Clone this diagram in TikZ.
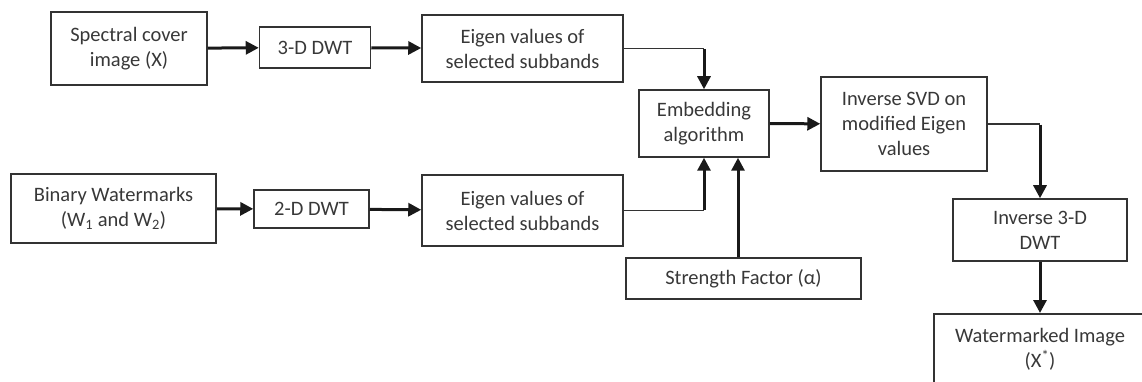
\documentclass[tikz,border=0pt]{standalone}
\usepackage{fontspec}
\setmainfont{Carlito}
\usetikzlibrary{arrows.meta}

\tikzset{
  blk/.style={draw=black!80, line width=1.5pt, align=center, inner sep=0pt, text=black!78},
  flow/.style={draw=black!90, line width=3pt, -{Triangle[length=13pt,width=13pt]}},
  link/.style={draw=black!80, line width=1.5pt},
}

\begin{document}
\begin{tikzpicture}[x=1pt,y=-1pt, font=\fontsize{20.5}{25}\selectfont]
\useasboundingbox (0,0) rectangle (1142,382);
% upper chain
\node[blk, minimum width=156pt, minimum height=73pt] (cover) at (129,48.5) {Spectral cover\\image (X)};
\node[blk, minimum width=111pt, minimum height=41pt] (dwt3) at (315,47.5) {3-D DWT};
\node[blk, minimum width=201pt, minimum height=67pt] (eigA) at (522.5,48.5) {Eigen values of\\selected subbands};
% lower chain
\node[blk, minimum width=205pt, minimum height=69pt] (marks) at (113.5,208.5) {Binary Watermarks\\(W\textsubscript{1} and W\textsubscript{2})};
\node[blk, minimum width=115pt, minimum height=38pt] (dwt2) at (311.5,209) {2-D DWT};
\node[blk, minimum width=201pt, minimum height=71pt] (eigB) at (522.5,210.5) {Eigen values of\\selected subbands};
% middle and output
\node[blk, minimum width=130pt, minimum height=67pt] (embed) at (704,123.5) {Embedding\\algorithm};
\node[blk, minimum width=235pt, minimum height=41pt] (alpha) at (743.5,278.5) {Strength Factor (α)};
\node[blk, minimum width=166pt, minimum height=94pt] (isvd) at (904,124) {Inverse SVD on\\modified Eigen\\values};
\node[blk, minimum width=174pt, minimum height=62pt] (idwt) at (1040,230) {Inverse 3-D\\DWT};
\node[blk, minimum width=212pt, minimum height=72pt, anchor=north] (wmimg) at (1040,313) {Watermarked Image\\(X\textsuperscript{*})};

\draw[flow] (cover) -- (dwt3);
\draw[flow] (dwt3) -- (eigA);
\draw[flow] (marks) -- (dwt2);
\draw[flow] (dwt2) -- (eigB);

\coordinate (jA) at (eigA.east -| embed.north);
\coordinate (jB) at (eigB.east -| embed.south);
\draw[link] (eigA.east) -- (jA);
\draw[flow] ([yshift=-0.75pt]jA) -- (embed.north);
\draw[link] (eigB.east) -- (jB);
\draw[flow] ([yshift=0.75pt]jB) -- (embed.south);
\draw[flow] ([xshift=-5.5pt]alpha.north) -- ([xshift=-5.5pt]alpha.north |- embed.south);

\draw[flow] (embed) -- (isvd);
\coordinate (jC) at (isvd.east -| idwt.north);
\draw[link] (isvd.east) -- (jC);
\draw[flow] ([yshift=-0.75pt]jC) -- (idwt.north);
\draw[flow] (idwt) -- (wmimg);
\end{tikzpicture}
\end{document}
